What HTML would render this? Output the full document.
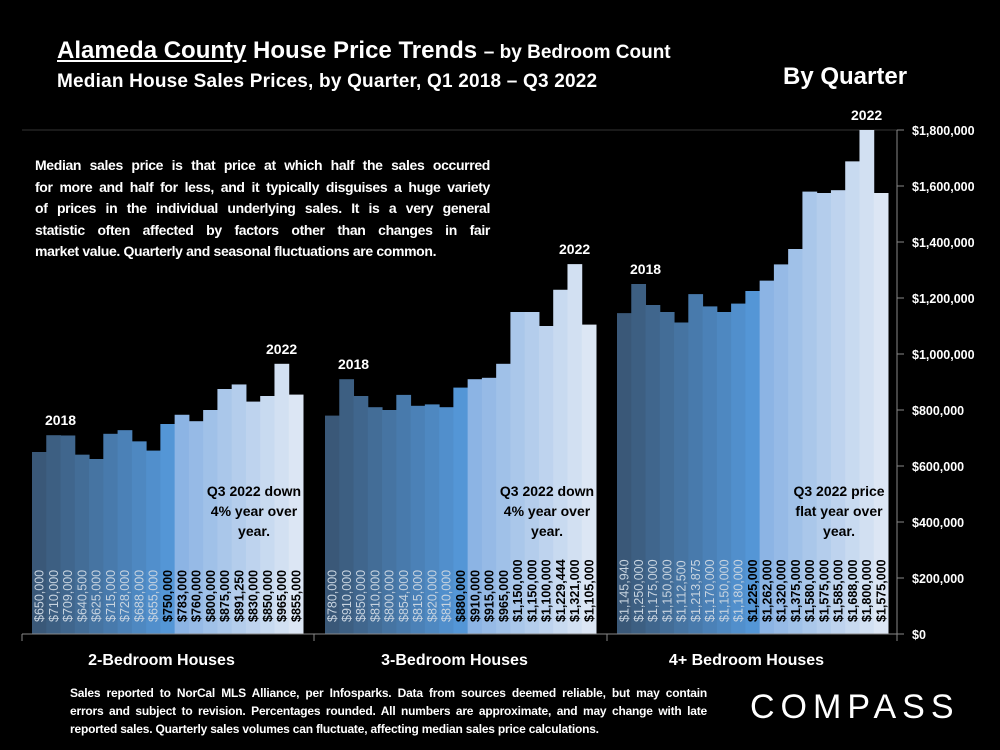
<!DOCTYPE html>
<html><head><meta charset="utf-8">
<style>
body{margin:0;background:#000;width:1000px;height:750px;overflow:hidden;font-family:"Liberation Sans",sans-serif;color:#fff;}
.t{position:absolute;white-space:nowrap;}
.j{text-align:justify;text-align-last:justify;white-space:nowrap;}
.l{white-space:nowrap;}
</style></head><body>
<div class="t" style="left:57px;top:37px;font-size:24px;font-weight:bold;"><span style="text-decoration:underline">Alameda County</span> House Price Trends <span style="font-size:19px">– by Bedroom Count</span></div>
<div class="t" style="left:57px;top:71px;font-size:19px;font-weight:bold;letter-spacing:0.2px;">Median House Sales Prices, by Quarter, Q1 2018 – Q3 2022</div>
<div class="t" style="left:783px;top:63px;font-size:24px;font-weight:bold;">By Quarter</div>
<div class="t" style="left:35px;top:155px;width:455px;font-size:14px;font-weight:bold;line-height:21.5px;letter-spacing:-0.35px;">
<div class="j">Median sales price is that price at which half the sales occurred</div>
<div class="j">for more and half for less, and it typically disguises a huge variety</div>
<div class="j">of prices in the individual underlying sales. It is a very general</div>
<div class="j">statistic often affected by factors other than changes in fair</div>
<div class="l">market value. Quarterly and seasonal fluctuations are common.</div>
</div>
<svg id="chart" width="1000" height="750" style="position:absolute;left:0;top:0"></svg>
<div class="t" style="left:70px;top:684px;width:637px;font-size:12px;font-weight:bold;line-height:18px;letter-spacing:-0.2px;">
<div class="j">Sales reported to NorCal MLS Alliance, per Infosparks. Data from sources deemed reliable, but may contain</div>
<div class="j">errors and subject to revision. Percentages rounded. All numbers are approximate, and may change with late</div>
<div class="l">reported sales. Quarterly sales volumes can fluctuate, affecting median sales price calculations.</div>
</div>
<div class="t" style="left:750px;top:688px;font-size:34px;letter-spacing:6px;">COMPASS</div>
<script>
const groups=["2-Bedroom Houses","3-Bedroom Houses","4+ Bedroom Houses"];
const bed2=[650000,710000,709000,640500,625000,715000,728000,688000,655000,750000,783000,760000,800000,875000,891250,830000,850000,965000,855000];
const bed3=[780000,910000,850000,810000,800000,854000,815000,820000,810000,880000,910000,915000,965000,1150000,1150000,1100000,1229444,1321000,1105000];
const bed4=[1145940,1250000,1175000,1150000,1112500,1213875,1170000,1150000,1180000,1225000,1262000,1320000,1375000,1580000,1575000,1585000,1688000,1800000,1575000];
const notes=[["Q3 2022 down","4% year over","year."],["Q3 2022 down","4% year over","year."],["Q3 2022 price","flat year over","year."]];
const yTicks=[0,200000,400000,600000,800000,1000000,1200000,1400000,1600000,1800000];
const series=[bed2,bed3,bed4];
const NS="http://www.w3.org/2000/svg";
const svg=document.getElementById('chart');
const y0=634,ymaxPx=130,vmax=1800000;
const y=v=>y0-(v/vmax)*(y0-ymaxPx);
const gx=[32,325,617],gw=271;
function mk(t,a,p){const e=document.createElementNS(NS,t);for(const k in a)e.setAttribute(k,a[k]);(p||svg).appendChild(e);return e;}
function mix(a,b,t){return a.map((c,i)=>Math.round(c+(b[i]-c)*t));}
function col(i){let c;if(i<10)c=mix([58,88,120],[84,150,214],i/9);else c=mix([140,180,228],[220,230,244],(i-10)/8);return `rgb(${c})`;}
const fmt=v=>'$'+v.toLocaleString('en-US');
let gl=mk('line',{x1:22,x2:897,y1:y(vmax),y2:y(vmax),stroke:'#333','stroke-width':1});


series.forEach((s,g)=>{
  const bw=gw/s.length;
  s.forEach((v,i)=>{
    const x=gx[g]+i*bw;
    const r=mk('rect',{x:x,y:y(v),width:bw+0.5,height:y0-y(v),fill:col(i)});
    
    
    const t=mk('text',{x:0,y:0,transform:`translate(${x+bw/2+4.5},622) rotate(-90)`,fill:i<9?'#c8d4e0':'#000','font-size':12.5,'font-weight':i<9?'normal':'bold'});
    t.textContent=fmt(v);
    
    
  });
  const y18=mk('text',{x:gx[g]+bw*2,y:y(Math.max(s[0],s[1],s[2]))-10,fill:'#fff','font-size':14,'font-weight':'bold','text-anchor':'middle'});
  y18.textContent='2018';
  
  
  const mi=s.indexOf(Math.max(...s));
  const y22=mk('text',{x:gx[g]+bw*(mi+0.5),y:y(s[mi])-10,fill:'#fff','font-size':14,'font-weight':'bold','text-anchor':'middle'});
  y22.textContent='2022';
  
  
  notes[g].forEach((ln,k)=>{
    const n=mk('text',{x:gx[g]+222,y:496+k*20,fill:'#000','font-size':14,'font-weight':'bold','text-anchor':'middle'});
    n.textContent=ln;
    
    
  });
  const gl2=mk('text',{x:gx[g]+gw/2-6,y:665,fill:'#fff','font-size':16,'font-weight':'bold','text-anchor':'middle'});
  gl2.textContent=groups[g];
  
  
});
let ax=mk('line',{x1:22,x2:897,y1:y0,y2:y0,stroke:'#888','stroke-width':1});


[22,314,607,897].forEach(x=>{mk('line',{x1:x,x2:x,y1:y0,y2:y0+7,stroke:'#888'});});
let ya=mk('line',{x1:897,x2:897,y1:ymaxPx,y2:y0,stroke:'#888'});


yTicks.forEach(v=>{
  mk('line',{x1:897,x2:904,y1:y(v),y2:y(v),stroke:'#888'});
  const t=mk('text',{x:912,y:y(v)+5,fill:'#fff','font-size':12.5,'font-weight':'bold'});
  t.textContent=fmt(v);
  
  
});
</script>
</body></html>
